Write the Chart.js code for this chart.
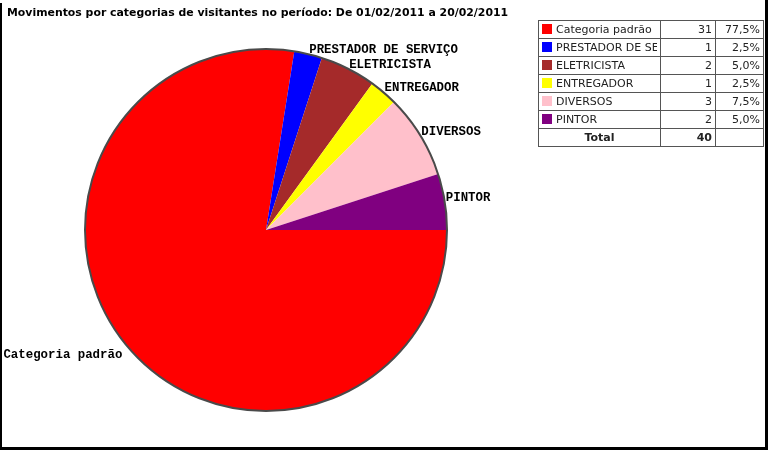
<!DOCTYPE html>
<html>
<head>
<meta charset="utf-8">
<script src="https://cdn.jsdelivr.net/npm/chart.js@4"></script>
<style>
html,body{margin:0;padding:0;background:#fff;}
#wrap{position:relative;width:768px;height:450px;overflow:hidden;}
canvas{position:absolute;left:0;top:0;}
#tbl{position:absolute;left:538px;top:20px;border-collapse:collapse;font-family:"DejaVu Sans",Verdana,sans-serif;font-size:11px;color:#222;}
#tbl td{border:1px solid #555;height:17px;padding:0 3px;white-space:nowrap;overflow:hidden;}
#tbl td.n{width:115px;max-width:115px;}
#tbl td.c{width:48px;text-align:right;}
#tbl td.p{width:41px;text-align:right;}
.sw{display:inline-block;width:10px;height:10px;vertical-align:-1px;margin-right:4px;}
</style>
</head>
<body>
<div id="wrap">
<canvas id="c" width="768" height="450"></canvas>
<table id="tbl"></table>
</div>
<script>
const titleText = "Movimentos por categorias de visitantes no período: De 01/02/2011 a 20/02/2011";
const categories = ["Categoria padrão", "PRESTADOR DE SERVIÇO", "ELETRICISTA", "ENTREGADOR", "DIVERSOS", "PINTOR"];
const values = [31, 1, 2, 1, 3, 2];
const percentLabels = ["77,5%", "2,5%", "5,0%", "2,5%", "7,5%", "5,0%"];
const colors = ["#FF0000", "#0000FF", "#A52A2A", "#FFFF00", "#FFC0CB", "#800080"];
const totalLabel = "Total";

// Build legend table
const tbl = document.getElementById('tbl');
let html = "";
categories.forEach((c, i) => {
  html += '<tr><td class="n"><div style="width:115px;overflow:hidden"><span class="sw" style="background:' + colors[i] + '"></span>' + c + '</div></td><td class="c">' + values[i] + '</td><td class="p">' + percentLabels[i] + '</td></tr>';
});
const total = values.reduce((a, b) => a + b, 0);
html += '<tr><td class="n" style="text-align:center;font-weight:bold">' + totalLabel + '</td><td class="c" style="font-weight:bold">' + total + '</td><td class="p"></td></tr>';
tbl.innerHTML = html;

const decor = {
  id: 'decor',
  afterDatasetsDraw(chart) {
    const ctx = chart.ctx;
    const meta = chart.getDatasetMeta(0);
    const arc0 = meta.data[0];
    const cx = arc0.x, cy = arc0.y, r = arc0.outerRadius;
    ctx.save();
    ctx.beginPath();
    ctx.arc(cx, cy, r, 0, Math.PI * 2);
    ctx.lineWidth = 2;
    ctx.strokeStyle = '#4a4a4a';
    ctx.stroke();
    // labels
    ctx.font = 'bold 12.4px "Liberation Mono", "Courier New", monospace';
    ctx.fillStyle = '#000';
    ctx.textBaseline = 'middle';
    meta.data.forEach((a, i) => {
      const mid = (a.startAngle + a.endAngle) / 2;
      const px = cx + Math.cos(mid) * r;
      const py = cy + Math.sin(mid) * r;
      const right = Math.cos(mid) >= 0;
      ctx.textAlign = right ? 'left' : 'right';
      ctx.fillText(categories[i], px + (right ? 1 : -6), py + (Math.sin(mid) > 0 ? 7 : -4));
    });
    // title
    ctx.font = 'bold 10.9px "DejaVu Sans", Verdana, sans-serif';
    ctx.textAlign = 'left';
    ctx.fillText(titleText, 7, 13);
    // frame
    ctx.fillStyle = '#000';
    ctx.fillRect(0, 3, 2, 447);
    ctx.fillRect(0, 447, 768, 3);
    ctx.fillRect(765, 0, 3, 450);
    ctx.restore();
  }
};

new Chart(document.getElementById('c'), {
  type: 'pie',
  data: {
    labels: categories,
    datasets: [{
      data: values,
      backgroundColor: colors,
      borderWidth: 0
    }]
  },
  options: {
    responsive: false,
    animation: false,
    rotation: 90,
    layout: { padding: { left: 85, right: 321, top: 49, bottom: 39 } },
    plugins: { legend: { display: false }, tooltip: { enabled: false }, title: { display: false } }
  },
  plugins: [decor]
});
</script>
</body>
</html>
